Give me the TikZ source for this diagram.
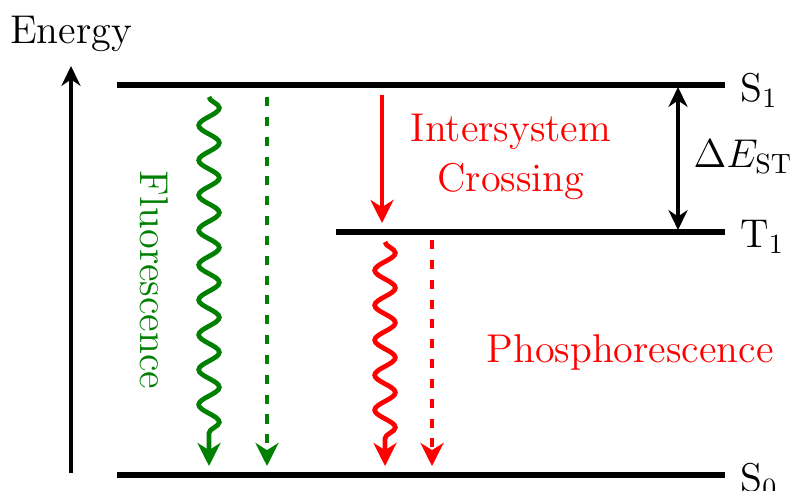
\documentclass[tikz,border=0pt]{standalone}
\usetikzlibrary{arrows.meta,decorations.pathmorphing}
\definecolor{flgreen}{RGB}{0,128,0}
\begin{document}
\begin{tikzpicture}[x=0.012610cm,y=-0.012610cm,font=\Large,
  level/.style={line width=1.9pt},
  trans/.style={line width=1.7pt,-{Stealth[length=2.9mm,width=2.9mm,inset=0.9mm]}},
  axis/.style={line width=1.6pt,>={Stealth[length=2.5mm,width=2.4mm,inset=0.8mm]}},
  wavy/.style={decorate,decoration={snake,amplitude=1.3mm,segment length=4.4mm,post length=3.4mm}},
  dashline/.style={dash pattern=on 1.15mm off 1.35mm},
  lbl/.style={anchor=west,inner sep=0pt}]
\useasboundingbox (0,0) rectangle (793,491);
% energy levels
\coordinate (s1l) at (117,85);   \coordinate (s1r) at (725,85);
\coordinate (t1l) at (336,232);  \coordinate (t1r) at (725,232);
\coordinate (s0l) at (117,475);  \coordinate (s0r) at (725,475);
\draw[level] (s1l) -- (s1r);
\draw[level] (t1l) -- (t1r);
\draw[level] (s0l) -- (s0r);
\node[lbl] (s1) at (740,90) {S$_1$};
\node[lbl] (t1) at (740,237) {T$_1$};
\node[lbl] (s0) at (740,480) {S$_0$};
% energy axis
\node (energy) at (71,34) {Energy};
\coordinate (ea) at (71,473);
\coordinate (eb) at (71,66);
\draw[axis,->] (ea) -- (eb);
% singlet-triplet gap
\coordinate (da) at (678,87);
\coordinate (db) at (678,230);
\draw[axis,<->] (da) -- (db);
\node[lbl] (dest) at (693,157) {$\Delta E_{\mathrm{ST}}$};
% fluorescence
\coordinate (fa) at (209,97);
\coordinate (fb) at (209,466);
\draw[trans,flgreen,wavy] (fa) -- (fb);
\coordinate (fc) at (267,97);
\coordinate (fd) at (267,466);
\draw[trans,flgreen,dashline] (fc) -- (fd);
\node[flgreen,rotate=-90] (fl) at (154,280) {Fluorescence};
% intersystem crossing
\coordinate (ia) at (382,95);
\coordinate (ib) at (382,223);
\draw[trans,red] (ia) -- (ib);
\node[red,align=center] (isc) at (511,157) {Intersystem\\Crossing};
% phosphorescence
\coordinate (pa) at (385,242);
\coordinate (pb) at (385,466);
\draw[trans,red,wavy] (pa) -- (pb);
\coordinate (pc) at (432,240);
\coordinate (pd) at (432,466);
\draw[trans,red,dashline] (pc) -- (pd);
\node[red] (ph) at (630,352) {Phosphorescence};
\end{tikzpicture}
\end{document}
